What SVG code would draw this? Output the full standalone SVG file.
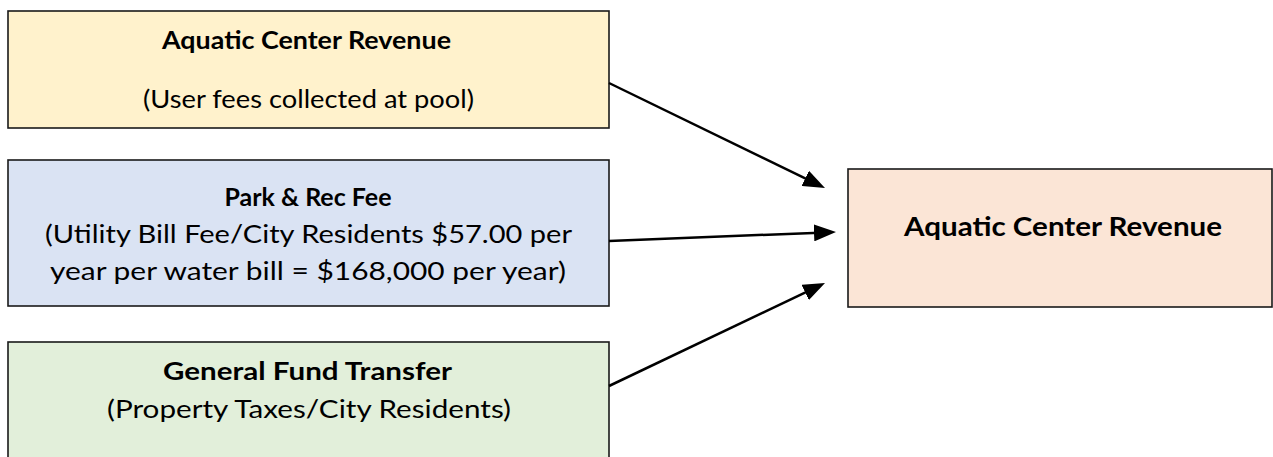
<svg xmlns="http://www.w3.org/2000/svg" width="1273" height="457" viewBox="0 0 1273 457">
  <style>
    .box { stroke: #1a1a1a; stroke-width: 1.6; }
    .t { font-family: Lato, "Open Sans", "Liberation Sans", sans-serif; fill: #000; text-anchor: middle; }
    .b { font-weight: bold; font-size: 25px; }
    .r { font-size: 25px; }
    .big { font-weight: bold; font-size: 27px; }
    .edge { stroke: #000; stroke-width: 2.5; fill: none; marker-end: url(#head); }
  </style>
  <defs>
    <marker id="head" markerUnits="userSpaceOnUse" markerWidth="22" markerHeight="17" refX="12" refY="8.5" orient="auto">
      <path d="M0,0 L22,8.5 L0,17 z" fill="#000"/>
    </marker>
  </defs>
  <rect width="1273" height="457" fill="#fff"/>

  <g id="aquatic-fees">
    <rect class="box" x="8" y="11" width="601" height="117" fill="#FFF2CC"/>
    <text class="t b" x="306.5" y="49" textLength="289" lengthAdjust="spacingAndGlyphs">Aquatic Center Revenue</text>
    <text class="t r" x="308.5" y="108" textLength="331" lengthAdjust="spacingAndGlyphs">(User fees collected at pool)</text>
  </g>

  <g id="park-rec-fee">
    <rect class="box" x="8" y="160" width="601" height="146" fill="#DAE3F3"/>
    <text class="t b" x="308" y="206" textLength="167" lengthAdjust="spacingAndGlyphs">Park &amp; Rec Fee</text>
    <text class="t r" x="308.5" y="243" textLength="527" lengthAdjust="spacingAndGlyphs">(Utility Bill Fee/City Residents $57.00 per</text>
    <text class="t r" x="308" y="280" textLength="516" lengthAdjust="spacingAndGlyphs">year per water bill = $168,000 per year)</text>
  </g>

  <g id="general-fund">
    <rect class="box" x="8" y="342" width="601" height="130" fill="#E2EFDA"/>
    <text class="t b" x="307.5" y="380" textLength="289" lengthAdjust="spacingAndGlyphs">General Fund Transfer</text>
    <text class="t r" x="309" y="418" textLength="404" lengthAdjust="spacingAndGlyphs">(Property Taxes/City Residents)</text>
  </g>

  <g id="aquatic-total">
    <rect class="box" x="848" y="169" width="424" height="138" fill="#FBE5D6"/>
    <text class="t big" x="1063" y="236" textLength="318" lengthAdjust="spacingAndGlyphs">Aquatic Center Revenue</text>
  </g>

  <g id="connectors">
    <line class="edge" x1="609" y1="83" x2="816" y2="183.6"/>
    <line class="edge" x1="609" y1="241" x2="826" y2="232.4"/>
    <line class="edge" x1="609" y1="386" x2="816" y2="287.3"/>
  </g>
</svg>
